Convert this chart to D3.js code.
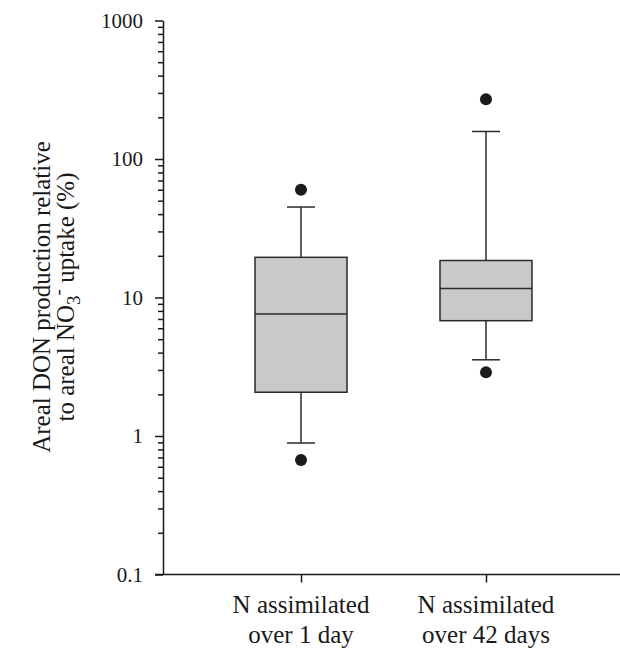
<!doctype html>
<html>
<head>
<meta charset="utf-8">
<script src="https://cdn.jsdelivr.net/npm/d3@7"></script>
<style>
    html, body { margin: 0; padding: 0; background: #fff; }
    svg text { font-family: "Liberation Serif", "Times New Roman", serif; fill: #1a1a1a; }
    .axis path, .axis line { stroke: #1a1a1a; stroke-width: 1.5; }
</style>
</head>
<body>
<div id="viz"></div>
<script>
// groups on the x axis
var categories = ["day1", "day42"];
var categoryLines = [["N assimilated", "over 1 day"], ["N assimilated", "over 42 days"]];

// box statistics per group (% values)
var whiskerLow  = [0.89, 3.55];
var q1          = [2.07, 6.8];
var median      = [7.6, 11.6];
var q3          = [19.5, 18.5];
var whiskerHigh = [45, 158];
var outliers    = [[0.67, 60], [2.88, 270]];

// y axis ticks
var majorTicks = [0.1, 1, 10, 100, 1000];

var w = 620, h = 651;
var plotLeft = 163, plotTop = 20.5, plotBottom = 574.5, plotRight = 624;

var svg = d3.select("#viz").append("svg")
    .attr("width", w)
    .attr("height", h);

var y = d3.scaleLog()
    .domain([0.1, 1000])
    .range([plotBottom, plotTop]);

var x = d3.scalePoint()
    .domain(categories)
    .range([plotLeft, plotRight])
    .padding(0.746);

var boxW = 92, capW = 28;

// minor ticks
var minorTicks = y.ticks().filter(function (d) {
    return majorTicks.indexOf(+d.toPrecision(3)) < 0;
});
svg.append("g")
    .attr("class", "axis")
    .attr("transform", "translate(" + plotLeft + ",0)")
    .call(d3.axisLeft(y).tickValues(minorTicks).tickSize(5).tickFormat(""))
    .call(function (g) { g.select(".domain").remove(); });

// major ticks + labels
var yAxis = svg.append("g")
    .attr("class", "axis")
    .attr("transform", "translate(" + plotLeft + ",0)")
    .call(d3.axisLeft(y).tickValues(majorTicks).tickSize(8).tickSizeOuter(0).tickPadding(12)
        .tickFormat(function (d) { return String(d); }));
yAxis.selectAll("text")
    .attr("font-size", 21)
    .attr("dy", "0.33em");

// x axis
var xAxis = svg.append("g")
    .attr("class", "axis")
    .attr("transform", "translate(0," + plotBottom + ")")
    .call(d3.axisBottom(x).tickSize(8).tickSizeOuter(0).tickFormat(""));
xAxis.select(".domain").attr("d", "M" + (plotLeft - 8) + ",0H" + w);

svg.selectAll(".catlabel")
    .data(categories)
    .enter().append("text")
    .attr("class", "catlabel")
    .attr("text-anchor", "middle")
    .attr("font-size", 25)
    .each(function (d, i) {
        var t = d3.select(this);
        categoryLines[i].forEach(function (line, j) {
            t.append("tspan")
                .attr("x", x(d))
                .attr("y", 613 + j * 30)
                .text(line);
        });
    });

// boxes
var boxes = svg.selectAll(".box")
    .data(categories)
    .enter().append("g")
    .attr("class", "box");

boxes.append("line")
    .attr("x1", function (d) { return x(d); })
    .attr("x2", function (d) { return x(d); })
    .attr("y1", function (d, i) { return y(whiskerHigh[i]); })
    .attr("y2", function (d, i) { return y(whiskerLow[i]); })
    .attr("stroke", "#2a2a2a")
    .attr("stroke-width", 1.5);

[whiskerHigh, whiskerLow].forEach(function (arr) {
    boxes.append("line")
        .attr("x1", function (d) { return x(d) - capW / 2; })
        .attr("x2", function (d) { return x(d) + capW / 2; })
        .attr("y1", function (d, i) { return y(arr[i]); })
        .attr("y2", function (d, i) { return y(arr[i]); })
        .attr("stroke", "#2a2a2a")
        .attr("stroke-width", 1.5);
});

boxes.append("rect")
    .attr("x", function (d) { return x(d) - boxW / 2; })
    .attr("y", function (d, i) { return y(q3[i]); })
    .attr("width", boxW)
    .attr("height", function (d, i) { return y(q1[i]) - y(q3[i]); })
    .attr("fill", "#c8c9cb")
    .attr("stroke", "#2a2a2a")
    .attr("stroke-width", 1.5);

boxes.append("line")
    .attr("x1", function (d) { return x(d) - boxW / 2; })
    .attr("x2", function (d) { return x(d) + boxW / 2; })
    .attr("y1", function (d, i) { return y(median[i]); })
    .attr("y2", function (d, i) { return y(median[i]); })
    .attr("stroke", "#2a2a2a")
    .attr("stroke-width", 1.5);

boxes.each(function (d, i) {
    d3.select(this).selectAll("circle")
        .data(outliers[i])
        .enter().append("circle")
        .attr("cx", x(d))
        .attr("cy", function (v) { return y(v); })
        .attr("r", 6)
        .attr("fill", "#1a1a1a");
});

// y title
var title = svg.append("text")
    .attr("transform", "translate(0,297) rotate(-90)")
    .attr("text-anchor", "middle")
    .attr("font-size", 25);
title.append("tspan")
    .attr("x", 0).attr("y", 50)
    .text("Areal DON production relative");
var l2 = title.append("tspan").attr("x", 0).attr("y", 74);
l2.append("tspan").text("to areal NO");
l2.append("tspan").attr("dy", 6).attr("font-size", 19).text("3");
l2.append("tspan").attr("dy", -16).attr("font-size", 19).text("-");
l2.append("tspan").attr("dy", 10).text(" uptake (%)");
</script>
</body>
</html>
